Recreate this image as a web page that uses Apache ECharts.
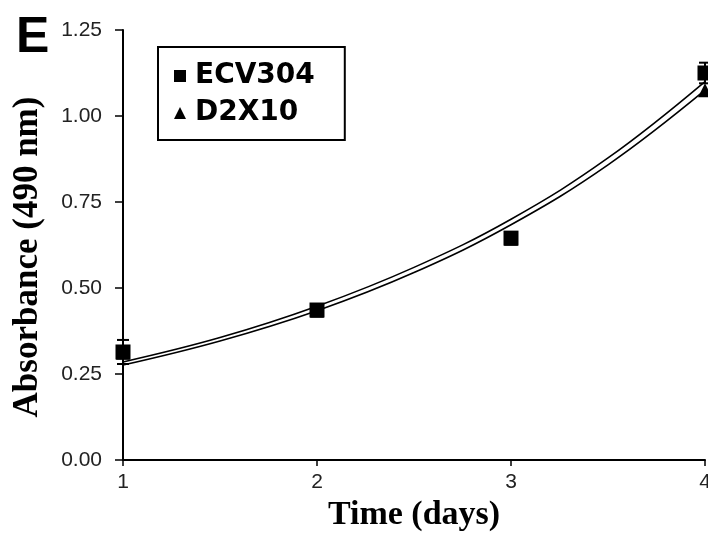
<!DOCTYPE html>
<html>
<head>
<meta charset="utf-8">
<script src="https://cdn.jsdelivr.net/npm/echarts@6/dist/echarts.min.js"></script>
<style>
  html, body { margin: 0; padding: 0; background: #fff; }
  #chart { width: 708px; height: 537px; }
</style>
</head>
<body>
<div id="chart"></div>
<script>
// values
const days = [1, 2, 3, 4];
const ecv304 = [0.314, 0.436, 0.645, 1.125];
const ecv304Err = [0.035, 0.01, 0.01, 0.03];
const d2x10 = [0.312, 0.434, 0.643, 1.075];
// fitted curves, sampled by eye every half day
const fitX = [1, 1.5, 2, 2.5, 3, 3.5, 4];
const fitEcv = [0.285, 0.356, 0.447, 0.56, 0.70, 0.878, 1.10];
const fitD2x = [0.276, 0.346, 0.434, 0.545, 0.684, 0.858, 1.075];
const yTicks = [0, 0.25, 0.5, 0.75, 1, 1.25];

let chart = echarts.init(document.getElementById('chart'));

let errData = days.map((d, i) => [d, ecv304[i] - ecv304Err[i], ecv304[i] + ecv304Err[i]]);

function errorBar(params, api) {
    let x = api.value(0),
        lo = api.coord([x, api.value(1)]),
        hi = api.coord([x, api.value(2)]),
        w = 6;
    let style = {stroke: '#000', lineWidth: 2};
    return {
        type: 'group',
        children: [
            {type: 'line', shape: {x1: lo[0], y1: lo[1], x2: hi[0], y2: hi[1]}, style: style},
            {type: 'line', shape: {x1: hi[0] - w, y1: hi[1], x2: hi[0] + w, y2: hi[1]}, style: style},
            {type: 'line', shape: {x1: lo[0] - w, y1: lo[1], x2: lo[0] + w, y2: lo[1]}, style: style}
        ]
    };
}

let option = {
    animation: false,
    backgroundColor: '#fff',
    grid: {left: 123, right: 3, top: 30, bottom: 77, containLabel: false, outerBoundsMode: 'none'},
    legend: {
        left: 158,
        top: 47,
        orient: 'vertical',
        padding: [12, 30, 10, 16],
        itemGap: 3,
        itemWidth: 12,
        itemHeight: 12,
        borderColor: '#000',
        borderWidth: 2,
        borderRadius: 0,
        data: [{name: 'ECV304', icon: 'rect'}, {name: 'D2X10', icon: 'triangle'}],
        itemStyle: {opacity: 1},
        textStyle: {
            fontFamily: 'DejaVu Sans',
            fontWeight: 'bold',
            fontSize: 28,
            lineHeight: 34,
            color: '#000',
            padding: [0, 0, 0, 4]
        }
    },
    graphic: [{
        type: 'text',
        left: 16,
        top: 13,
        style: {text: 'E', fontFamily: 'Liberation Sans', fontWeight: 'bold', fontSize: 50, fill: '#000'}
    }],
    xAxis: {
        type: 'value',
        min: 1,
        max: 4,
        interval: 1,
        name: 'Time (days)',
        nameLocation: 'middle',
        nameGap: 30,
        nameTextStyle: {fontFamily: 'Liberation Serif', fontWeight: 'bold', fontSize: 34, color: '#000'},
        axisLine: {lineStyle: {color: '#000', width: 2}},
        axisTick: {length: 6, lineStyle: {color: '#000', width: 1.5}},
        axisLabel: {fontFamily: 'Liberation Sans', fontSize: 21, color: '#222', margin: 12, showMaxLabel: true},
        splitLine: {show: false}
    },
    yAxis: {
        type: 'value',
        min: 0,
        max: 1.25,
        interval: 0.25,
        name: 'Absorbance (490 nm)',
        nameLocation: 'middle',
        nameGap: 78,
        nameTextStyle: {fontFamily: 'Liberation Serif', fontWeight: 'bold', fontSize: 35, color: '#000', padding: [0, 24, 0, 0]},
        axisLine: {show: true, lineStyle: {color: '#000', width: 2}},
        axisTick: {show: true, length: 8, lineStyle: {color: '#000', width: 1.5}},
        axisLabel: {
            fontFamily: 'Liberation Sans', fontSize: 21, color: '#222', margin: 21,
            formatter: v => yTicks.includes(v) ? v.toFixed(2) : ''
        },
        splitLine: {show: false}
    },
    series: [
        {
            type: 'line',
            name: 'fit ECV304',
            data: fitX.map((x, i) => [x, fitEcv[i]]),
            smooth: 0.4,
            showSymbol: false,
            clip: false,
            lineStyle: {color: '#000', width: 1.6},
            z: 2
        },
        {
            type: 'line',
            name: 'fit D2X10',
            data: fitX.map((x, i) => [x, fitD2x[i]]),
            smooth: 0.4,
            showSymbol: false,
            clip: false,
            lineStyle: {color: '#000', width: 1.6},
            z: 2
        },
        {
            type: 'custom',
            name: 'err',
            data: errData,
            renderItem: errorBar,
            clip: false,
            z: 3
        },
        {
            type: 'scatter',
            name: 'D2X10',
            data: days.map((d, i) => [d, d2x10[i]]),
            symbol: 'triangle',
            symbolSize: 14,
            itemStyle: {color: '#000', opacity: 1},
            clip: false,
            z: 4
        },
        {
            type: 'scatter',
            name: 'ECV304',
            data: days.map((d, i) => [d, ecv304[i]]),
            symbol: 'rect',
            symbolSize: 15,
            itemStyle: {color: '#000', opacity: 1},
            clip: false,
            z: 5
        }
    ]
};

chart.setOption(option);
</script>
</body>
</html>
